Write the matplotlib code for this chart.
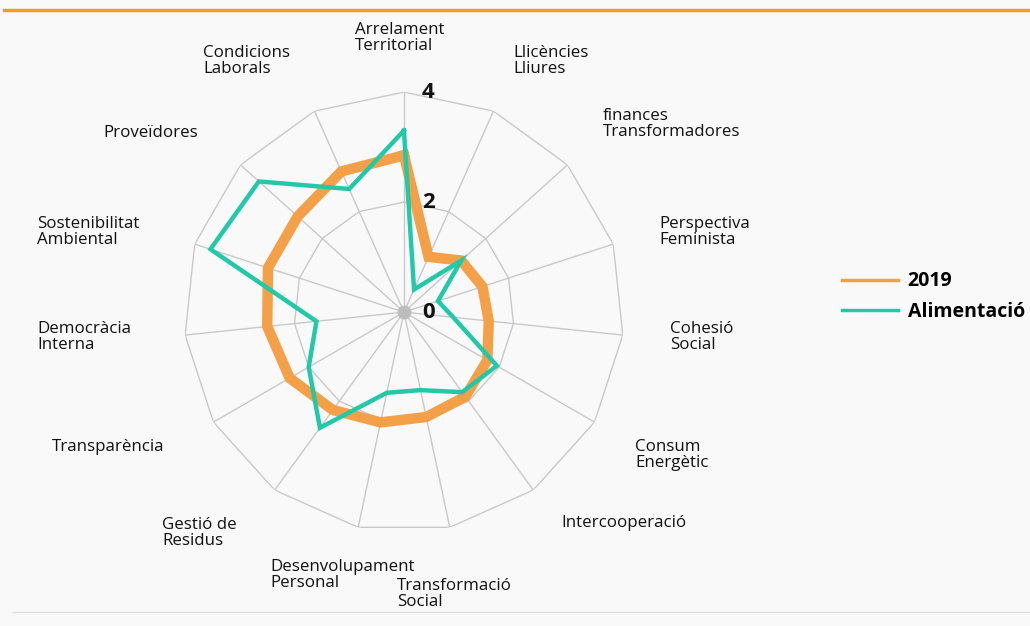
import numpy as np
import matplotlib.pyplot as plt
from matplotlib.lines import Line2D

categories = ["Arrelament\nTerritorial", "Llicències\nLliures", "finances\nTransformadores",
              "Perspectiva\nFeminista", "Cohesió\nSocial", "Consum\nEnergètic", "Intercooperació",
              "Transformació\nSocial", "Desenvolupament\nPersonal", "Gestió de\nResidus",
              "Transparència", "Democràcia\nInterna", "Sostenibilitat\nAmbiental", "Proveïdores",
              "Condicions\nLaborals"]
values_2019 = [2.85, 1.1, 1.4, 1.5, 1.55, 1.75, 1.9, 1.95, 2.05, 2.2, 2.4, 2.5, 2.6, 2.6, 2.8]
values_alim = [3.3, 0.45, 1.4, 0.65, 0.9, 1.95, 1.8, 1.45, 1.5, 2.6, 2.0, 1.6, 3.7, 3.55, 2.45]
ring_ticks = [0, 2, 4]
series_names = ["2019", "Alimentació"]

# label anchors (left edge, vertical centre) as pixel offsets from the chart centre
label_offsets = [(-49, 274), (109, 251), (199, 188), (255, 80), (266, -25), (231, -143),
                 (157, -211), (-7, -282), (-134, -263), (-242, -221), (-352, -135),
                 (-367, -25), (-367, 80), (-301, 179), (-201, 251)]

plt.rcParams['font.family'] = ['Open Sans', 'DejaVu Sans']
orange = "#f3a048"
teal = "#22c9a9"
grid_c = "#c9c9c9"

fig = plt.figure(figsize=(10.3, 6.26), dpi=100, facecolor="#f9f9f9")
ax = fig.add_axes([0.1786, 0.150, 0.4272, 0.7029], projection="polar")
ax.set_facecolor("none")
ax.set_theta_offset(np.pi / 2)
ax.set_theta_direction(-1)
ax.set_ylim(0, 4)
ax.set_xticks([])
ax.set_yticks([])
ax.grid(False)
ax.spines["polar"].set_visible(False)

n = len(categories)
theta = np.linspace(0, 2 * np.pi, n, endpoint=False)
theta_closed = np.append(theta, theta[0])

# polygon grid
for r in ring_ticks[1:]:
    ax.plot(theta_closed, [r] * (n + 1), color=grid_c, lw=1, zorder=1)
for t in theta:
    ax.plot([t, t], [0, ring_ticks[-1]], color=grid_c, lw=1, zorder=1)
ax.plot([0], [0], "o", color="#bdbdbd", ms=9, zorder=1)

ax.plot(theta_closed, values_2019 + values_2019[:1], color=orange, lw=7.5,
        solid_joinstyle="miter", zorder=3)
ax.plot(theta_closed, values_alim + values_alim[:1], color=teal, lw=3.2,
        solid_joinstyle="miter", zorder=4)

for r in ring_ticks:
    ax.annotate(str(r), xy=(0, r), xytext=(18, 0), textcoords="offset pixels",
                ha="left", va="center", fontsize=16, fontweight="bold", color="#111111",
                annotation_clip=False)

for lab, (dx, dy) in zip(categories, label_offsets):
    ax.annotate(lab, xy=(0, 0), xytext=(dx, dy), textcoords="offset pixels",
                ha="left", va="center", fontsize=12.2, color="#111111",
                linespacing=0.98, annotation_clip=False)

handles = [Line2D([], [], color=orange, lw=2.5), Line2D([], [], color=teal, lw=2.5)]
fig.legend(handles, series_names, loc="center left", bbox_to_anchor=(0.800, 0.526),
           frameon=False, prop={"size": 14, "weight": "bold"}, handlelength=2.9,
           handletextpad=0.5, labelspacing=0.55)

# decorative rules at top and bottom
fig.add_artist(Line2D([0.004, 1.0], [0.984, 0.984], color="#f89c1c", lw=2.5))
fig.add_artist(Line2D([0.013, 1.0], [0.022, 0.022], color="#e0e0e0", lw=1))

fig.savefig("out.png", dpi=100, facecolor=fig.get_facecolor())
